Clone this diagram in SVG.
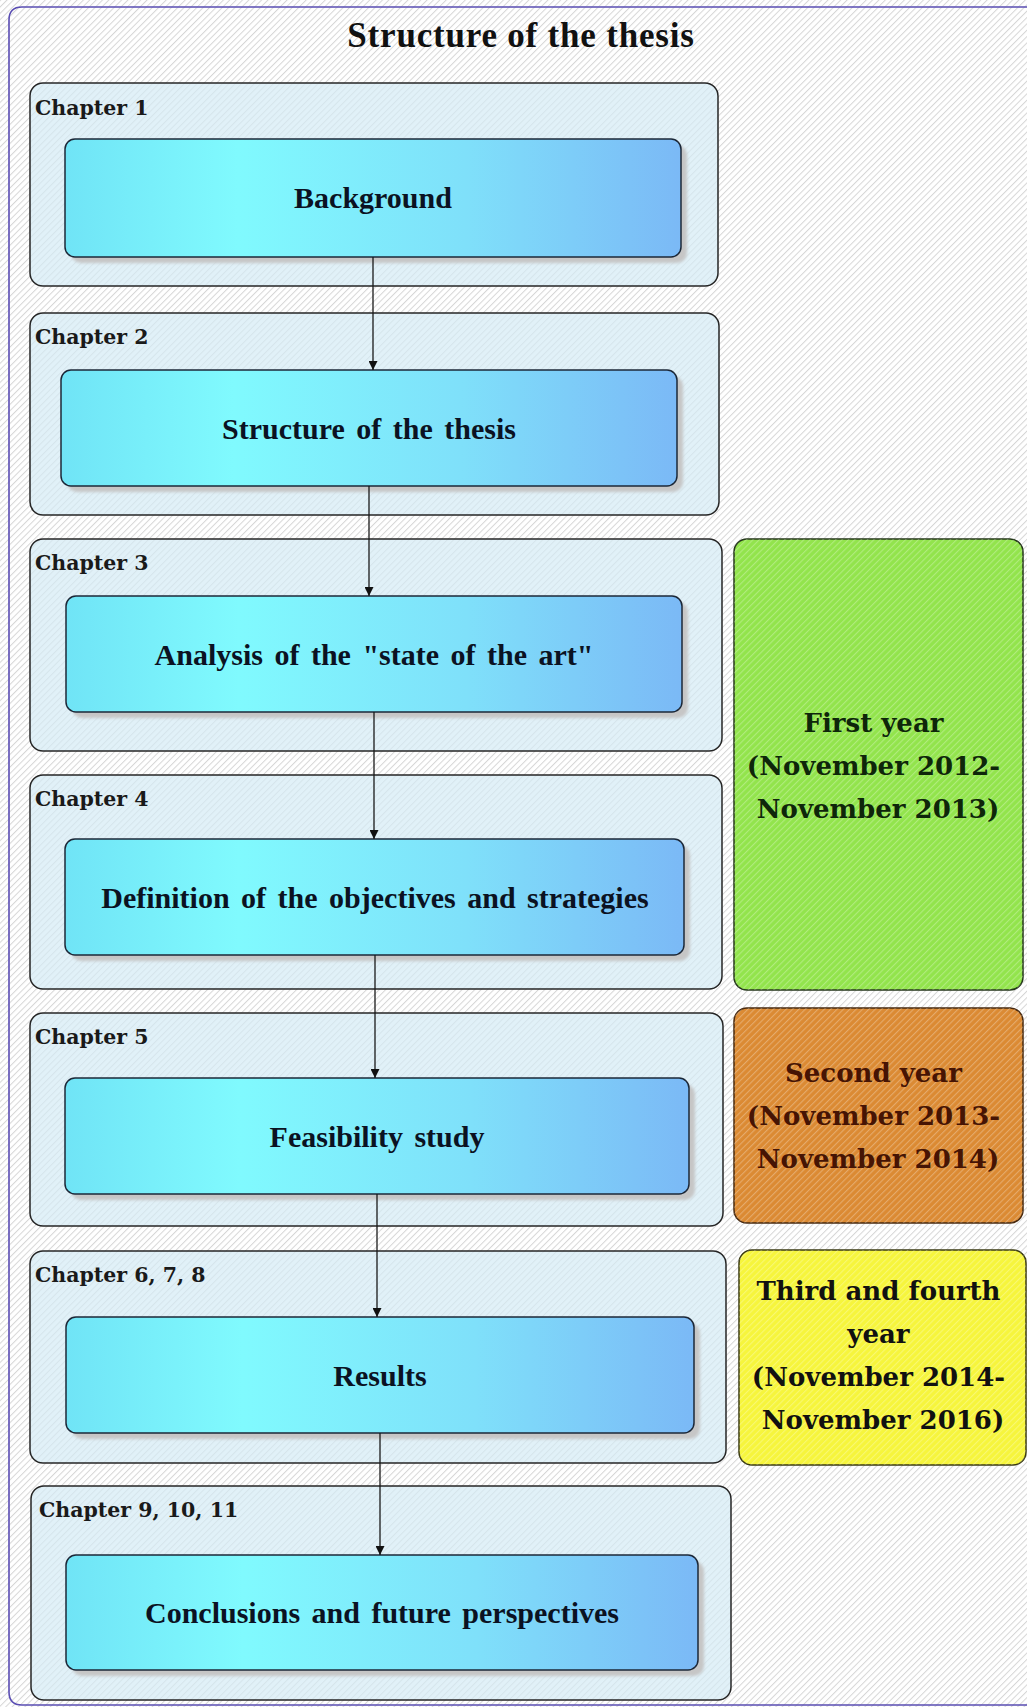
<svg xmlns="http://www.w3.org/2000/svg" width="1027" height="1707" viewBox="0 0 1027 1707">
  <defs>
    <!-- diagonal hatching laid over every filled area -->
    <pattern id="hatch" width="4.5" height="4.5" patternUnits="userSpaceOnUse" patternTransform="rotate(45)">
      <line x1="0.5" y1="0" x2="0.5" y2="4.5" stroke="#000" stroke-opacity="0.16" stroke-width="1"/>
    </pattern>
    <pattern id="hatchSoft" width="4.5" height="4.5" patternUnits="userSpaceOnUse" patternTransform="rotate(45)">
      <line x1="0.5" y1="0" x2="0.5" y2="4.5" stroke="#000" stroke-opacity="0.05" stroke-width="1"/>
    </pattern>
    <pattern id="hatchLight" width="4.5" height="4.5" patternUnits="userSpaceOnUse" patternTransform="rotate(45)">
      <line x1="0.5" y1="0" x2="0.5" y2="4.5" stroke="#fff" stroke-opacity="0.28" stroke-width="1.2"/>
    </pattern>
    <linearGradient id="cyan" x1="0" y1="0" x2="1" y2="0">
      <stop offset="0" stop-color="#70e4f6"/>
      <stop offset="0.28" stop-color="#80fafe"/>
      <stop offset="0.65" stop-color="#7fe0fa"/>
      <stop offset="1" stop-color="#7bb9f6"/>
    </linearGradient>
    <filter id="soft" x="-5%" y="-10%" width="110%" height="120%">
      <feGaussianBlur stdDeviation="1.5"/>
    </filter>
    <marker id="arrow" viewBox="0 0 10 10" refX="10" refY="5" markerWidth="9" markerHeight="9" markerUnits="userSpaceOnUse" orient="auto">
      <path d="M0,0 L10,5 L0,10 z" fill="#111"/>
    </marker>
  </defs>
  <style>
    .frame{fill:none;stroke:#5a4db3;stroke-width:1.6}
    .chap{fill:#e1f1f8;stroke:#262626;stroke-width:1.5}
    .chapHatch{fill:url(#hatchSoft);stroke:none}
    .shadow{fill:#c6c6c6;filter:url(#soft)}
    .task{fill:url(#cyan);stroke:#1c2838;stroke-width:1.5}
    .year{stroke-width:1.5}
    .yearHatch{fill:url(#hatchLight);stroke:none}
    .title{font-family:"Liberation Serif","Times New Roman",serif;font-weight:bold;font-size:35px;fill:#111;text-anchor:middle;letter-spacing:0.8px}
    .chapLabel{font-family:"DejaVu Serif",serif;font-weight:bold;font-size:20.5px;fill:#1a1a1a}
    .taskLabel{font-family:"Liberation Serif","Times New Roman",serif;font-weight:bold;font-size:30px;fill:#0b1222;text-anchor:middle;word-spacing:4px}
    .yearLabel{font-family:"DejaVu Serif",serif;font-weight:bold;font-size:26px;text-anchor:middle}
    .conn{stroke:#1a1a1a;stroke-width:1.3;fill:none;marker-end:url(#arrow)}
  </style>

  <!-- page background -->
  <rect x="0" y="0" width="1027" height="1707" fill="#ffffff"/>
  <rect x="0" y="0" width="1027" height="1707" fill="url(#hatch)"/>
  <path class="frame" d="M1030,7 H22 Q9,7 9,20 V1692 Q9,1705 22,1705 H1030"/>

  <text class="title" x="521" y="47">Structure of the thesis</text>

  <!-- chapter 1 -->
  <g id="chapter1">
    <rect class="chap" x="30" y="83" width="688" height="203" rx="13"/>
    <rect class="chapHatch" x="30" y="83" width="688" height="203" rx="13"/>
    <text class="chapLabel" x="35" y="115">Chapter 1</text>
    <rect class="shadow" x="71" y="145" width="616" height="118" rx="10"/>
    <rect class="task" x="65" y="139" width="616" height="118" rx="10"/>
    <text class="taskLabel" x="373" y="208">Background</text>
  </g>

  <!-- chapter 2 -->
  <g id="chapter2">
    <rect class="chap" x="30" y="313" width="689" height="202" rx="13"/>
    <rect class="chapHatch" x="30" y="313" width="689" height="202" rx="13"/>
    <text class="chapLabel" x="35" y="344">Chapter 2</text>
    <rect class="shadow" x="67" y="376" width="616" height="116" rx="10"/>
    <rect class="task" x="61" y="370" width="616" height="116" rx="10"/>
    <text class="taskLabel" x="369" y="439">Structure of the thesis</text>
  </g>

  <!-- chapter 3 -->
  <g id="chapter3">
    <rect class="chap" x="30" y="539" width="692" height="212" rx="13"/>
    <rect class="chapHatch" x="30" y="539" width="692" height="212" rx="13"/>
    <text class="chapLabel" x="35" y="570">Chapter 3</text>
    <rect class="shadow" x="72" y="602" width="616" height="116" rx="10"/>
    <rect class="task" x="66" y="596" width="616" height="116" rx="10"/>
    <text class="taskLabel" x="374" y="665">Analysis of the "state of the art"</text>
  </g>

  <!-- chapter 4 -->
  <g id="chapter4">
    <rect class="chap" x="30" y="775" width="692" height="214" rx="13"/>
    <rect class="chapHatch" x="30" y="775" width="692" height="214" rx="13"/>
    <text class="chapLabel" x="35" y="806">Chapter 4</text>
    <rect class="shadow" x="71" y="845" width="619" height="116" rx="10"/>
    <rect class="task" x="65" y="839" width="619" height="116" rx="10"/>
    <text class="taskLabel" x="375" y="908">Definition of the objectives and strategies</text>
  </g>

  <!-- chapter 5 -->
  <g id="chapter5">
    <rect class="chap" x="30" y="1013" width="693" height="213" rx="13"/>
    <rect class="chapHatch" x="30" y="1013" width="693" height="213" rx="13"/>
    <text class="chapLabel" x="35" y="1044">Chapter 5</text>
    <rect class="shadow" x="71" y="1084" width="624" height="116" rx="10"/>
    <rect class="task" x="65" y="1078" width="624" height="116" rx="10"/>
    <text class="taskLabel" x="377" y="1147">Feasibility study</text>
  </g>

  <!-- chapters 6, 7, 8 -->
  <g id="chapter6">
    <rect class="chap" x="30" y="1251" width="696" height="212" rx="13"/>
    <rect class="chapHatch" x="30" y="1251" width="696" height="212" rx="13"/>
    <text class="chapLabel" x="35" y="1282">Chapter 6, 7, 8</text>
    <rect class="shadow" x="72" y="1323" width="628" height="116" rx="10"/>
    <rect class="task" x="66" y="1317" width="628" height="116" rx="10"/>
    <text class="taskLabel" x="380" y="1386">Results</text>
  </g>

  <!-- chapters 9, 10, 11 -->
  <g id="chapter9">
    <rect class="chap" x="31" y="1486" width="700" height="214" rx="13"/>
    <rect class="chapHatch" x="31" y="1486" width="700" height="214" rx="13"/>
    <text class="chapLabel" x="39" y="1517">Chapter 9, 10, 11</text>
    <rect class="shadow" x="72" y="1561" width="632" height="115" rx="10"/>
    <rect class="task" x="66" y="1555" width="632" height="115" rx="10"/>
    <text class="taskLabel" x="382" y="1623">Conclusions and future perspectives</text>
  </g>

  <!-- time line -->
  <g id="year1">
    <rect class="year" x="734" y="539" width="289" height="451" rx="13" fill="#92e44c" stroke="#24361a"/>
    <rect class="yearHatch" x="734" y="539" width="289" height="451" rx="13"/>
    <text class="yearLabel" fill="#0e260a">
      <tspan x="878" y="732">First year</tspan>
      <tspan x="878" y="775">(November 2012-</tspan>
      <tspan x="878" y="818">November 2013)</tspan>
    </text>
  </g>

  <g id="year2">
    <rect class="year" x="734" y="1008" width="289" height="215" rx="13" fill="#db8a33" stroke="#47280e"/>
    <rect class="yearHatch" x="734" y="1008" width="289" height="215" rx="13"/>
    <text class="yearLabel" fill="#461404">
      <tspan x="878" y="1082">Second year</tspan>
      <tspan x="878" y="1125">(November 2013-</tspan>
      <tspan x="878" y="1168">November 2014)</tspan>
    </text>
  </g>

  <g id="year3">
    <rect class="year" x="739" y="1250" width="287" height="215" rx="13" fill="#f6f53c" stroke="#3a3a12"/>
    <rect class="yearHatch" x="739" y="1250" width="287" height="215" rx="13"/>
    <text class="yearLabel" fill="#111">
      <tspan x="883" y="1300">Third and fourth</tspan>
      <tspan x="883" y="1343">year</tspan>
      <tspan x="883" y="1386">(November 2014-</tspan>
      <tspan x="883" y="1429">November 2016)</tspan>
    </text>
  </g>

  <!-- connectors -->
  <g id="connectors">
    <line class="conn" x1="373" y1="257" x2="373" y2="370"/>
    <line class="conn" x1="369" y1="486" x2="369" y2="596"/>
    <line class="conn" x1="374" y1="712" x2="374" y2="839"/>
    <line class="conn" x1="375" y1="955" x2="375" y2="1078"/>
    <line class="conn" x1="377" y1="1194" x2="377" y2="1317"/>
    <line class="conn" x1="380" y1="1433" x2="380" y2="1555"/>
  </g>
</svg>
